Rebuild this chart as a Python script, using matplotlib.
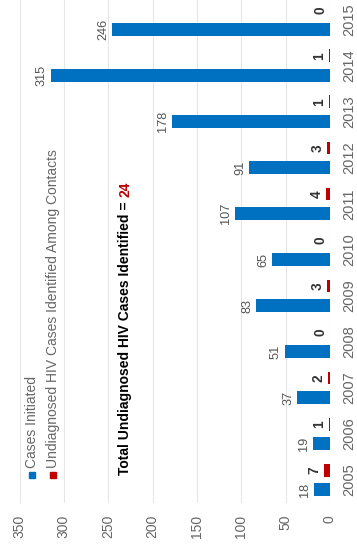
import numpy as np
import matplotlib.pyplot as plt

plt.rcParams['font.family'] = ['Liberation Sans', 'DejaVu Sans']

# Data
years = ['2005', '2006', '2007', '2008', '2009', '2010', '2011', '2012', '2013', '2014', '2015']
cases_initiated = [18, 19, 37, 51, 83, 65, 107, 91, 178, 315, 246]
undiagnosed_hiv = [7, 1, 2, 0, 3, 0, 4, 3, 1, 1, 0]
value_ticks = [0, 50, 100, 150, 200, 250, 300, 350]
total_text = 'Total Undiagnosed HIV Cases Identified = '
total_value = '24'

blue = '#0070C0'
red = '#C00000'

fig = plt.figure(figsize=(3.57, 5.46), dpi=100)
ax = fig.add_axes([19.5 / 357, 43 / 546, 310.5 / 357, 503 / 546])

pos = np.arange(len(years))
off = 0.215
w = 0.28
ax.barh(pos - off, cases_initiated, height=w, color=blue, zorder=3)
ax.barh(pos + off, undiagnosed_hiv, height=w, color=red, zorder=3)

# value labels at the bar ends (text reads bottom-to-top)
for p, v in zip(pos, cases_initiated):
    ax.annotate(str(v), (v, p - off), xytext=(-2, 0), textcoords='offset points',
                rotation=90, ha='right', va='center', fontsize=9.2, color='#555555')
for p, v in zip(pos, undiagnosed_hiv):
    ax.annotate(str(v), (v, p + off), xytext=(-2, 0), textcoords='offset points',
                rotation=90, ha='right', va='center', fontsize=9.8,
                fontweight='bold', color='#333333')

ax.set_xlim(350, 0)
ax.set_ylim(-0.5, 10.43)
ax.set_xticks(value_ticks)
ax.set_xticklabels([str(t) for t in value_ticks], rotation=90)
ax.set_yticks(pos)
ax.set_yticklabels(years, rotation=90)
ax.yaxis.tick_right()
ax.tick_params(axis='x', length=0, pad=8.5, labelsize=10, colors='#666666')
ax.tick_params(axis='y', length=0, pad=9, labelsize=10.5, colors='#666666')
for lab in ax.get_yticklabels():
    lab.set_va('center')
ax.grid(axis='x', color='#e6e6e6', linewidth=0.8, zorder=0)
for s in ax.spines.values():
    s.set_visible(False)

# legend drawn by hand, rotated like the rest of the chart
leg = [('Cases Initiated', blue, 0.04), ('Undiagnosed HIV Cases Identified Among Contacts', red, 0.108)]
for name, col, lx in leg:
    ax.plot([lx], [0.056], marker='s', markersize=5, color=col, transform=ax.transAxes,
            clip_on=False, zorder=4)
    ax.text(lx, 0.07, name, rotation=90, ha='center', va='bottom', fontsize=10,
            color='#666666', transform=ax.transAxes)

t1 = ax.text(0.34, 0.056, total_text, rotation=90, ha='center', va='bottom',
             fontsize=10, fontweight='bold', color='black', transform=ax.transAxes)
ax.annotate(total_value, xy=(0.5, 1), xycoords=t1, rotation=90, ha='center', va='bottom',
            fontsize=10, fontweight='bold', color=red)

fig.savefig('out.png', dpi=100)
